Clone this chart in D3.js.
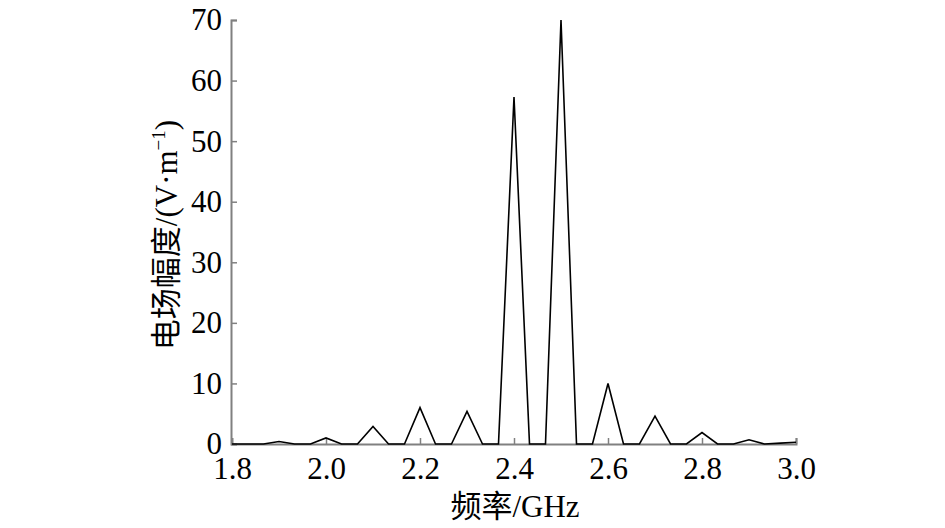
<!DOCTYPE html>
<html>
<head>
<meta charset="utf-8">
<script src="https://cdn.jsdelivr.net/npm/d3@7"></script>
<style>
  html, body { margin: 0; padding: 0; background: #fff; }
  svg { display: block; }
  text { font-family: "Liberation Serif", "Times New Roman", "Noto Sans CJK SC", serif; fill: #000; }
</style>
</head>
<body>
<svg id="chart" width="945" height="528"></svg>
<script>
// ---- data ----
const frequency = [1.8, 1.833, 1.867, 1.9, 1.933, 1.967, 2.0, 2.033, 2.067, 2.1, 2.133, 2.167,
  2.2, 2.233, 2.267, 2.3, 2.333, 2.367, 2.4, 2.433, 2.467, 2.5, 2.533, 2.567,
  2.6, 2.633, 2.667, 2.7, 2.733, 2.767, 2.8, 2.833, 2.867, 2.9, 2.933, 2.967, 3.0];
const amplitude = [0, 0, 0, 0.4, 0, 0, 1.0, 0, 0, 2.9, 0, 0,
  6.0, 0, 0, 5.4, 0, 0, 57.3, 0, 0, 70, 0, 0,
  10.0, 0, 0, 4.6, 0, 0, 1.9, 0, 0, 0.7, 0, 0.15, 0.3];
const xTicks = [1.8, 2.0, 2.2, 2.4, 2.6, 2.8, 3.0];
const yTicks = [0, 10, 20, 30, 40, 50, 60, 70];
const xLabel = "频率/GHz";
const yLabelMain = "电场幅度/(V·m";
const yLabelSup = "−1";
const yLabelEnd = ")";

// ---- layout ----
const svg = d3.select("#chart");
const mLeft = 232, mRight = 796, mTop = 20, mBottom = 444;
const x = d3.scaleLinear().domain([1.8, 3.0]).range([mLeft, mRight]);
const y = d3.scaleLinear().domain([0, 70]).range([mBottom, mTop]);
const axisColor = "#808080";
const fs = 31;

// y axis
const yAxis = d3.axisLeft(y).tickValues(yTicks).tickSize(-6).tickPadding(9).tickFormat(d3.format("d"));
const gy = svg.append("g").attr("transform", `translate(${mLeft - 1},0)`).call(yAxis);
gy.select(".domain").attr("stroke", axisColor).attr("stroke-width", 2);
gy.selectAll(".tick line").attr("stroke", axisColor).attr("stroke-width", 1.5);
gy.selectAll(".tick text").attr("font-size", fs).attr("font-family", "Liberation Serif, Times New Roman, serif");

// x axis
const xAxis = d3.axisBottom(x).tickValues(xTicks).tickSize(-6).tickPadding(13).tickFormat(d3.format(".1f"));
const gx = svg.append("g").attr("transform", `translate(0,${mBottom})`).call(xAxis);
gx.select(".domain").attr("stroke", axisColor).attr("stroke-width", 2);
gx.selectAll(".tick line").attr("stroke", axisColor).attr("stroke-width", 1.5)
  .filter(d => d === 1.8).remove();
gx.selectAll(".tick text").attr("font-size", fs).attr("font-family", "Liberation Serif, Times New Roman, serif");

// line
const pts = frequency.map((f, i) => [f, amplitude[i]]);
const line = d3.line().x(d => x(d[0])).y(d => y(d[1]));
svg.append("path").datum(pts)
  .attr("d", line)
  .attr("fill", "none")
  .attr("stroke", "#000")
  .attr("stroke-width", 1.6)
  .attr("stroke-linejoin", "miter");

// x label
svg.append("text")
  .attr("x", (mLeft + mRight) / 2 + 1)
  .attr("y", 517)
  .attr("text-anchor", "middle")
  .attr("font-size", fs)
  .text(xLabel);

// y label
const yl = svg.append("text")
  .attr("transform", `translate(177,235) rotate(-90)`)
  .attr("text-anchor", "middle")
  .attr("font-size", fs);
yl.append("tspan").text(yLabelMain);
yl.append("tspan").attr("font-size", 19).attr("dy", -12).text(yLabelSup);
yl.append("tspan").attr("dy", 12).text(yLabelEnd);
</script>
</body>
</html>
